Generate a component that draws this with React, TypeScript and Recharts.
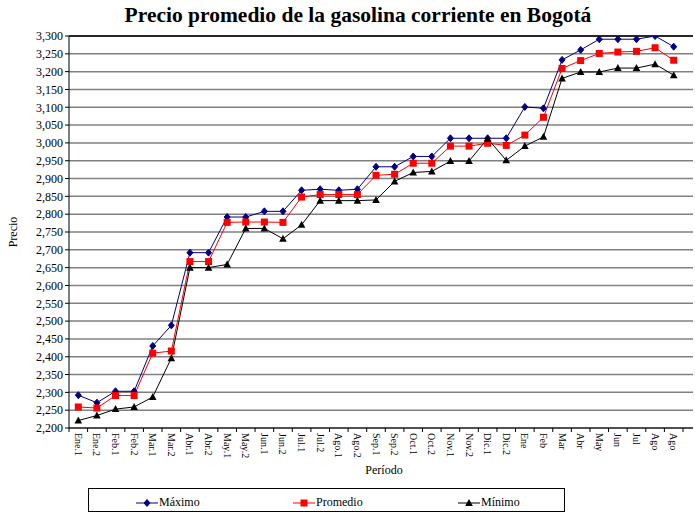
import React from 'react';
import {
  LineChart,
  Line,
  XAxis,
  YAxis,
  CartesianGrid,
  ReferenceLine,
} from 'recharts';

const periodos = [
  'Ene.1', 'Ene.2', 'Feb.1', 'Feb.2', 'Mar.1', 'Mar.2', 'Abr.1', 'Abr.2',
  'May.1', 'May.2', 'Jun.1', 'Jun.2', 'Jul.1', 'Jul.2', 'Ago.1', 'Ago.2',
  'Sep.1', 'Sep.2', 'Oct.1', 'Oct.2', 'Nov.1', 'Nov.2', 'Dic.1', 'Dic.2',
  'Ene', 'Feb', 'Mar', 'Abr', 'May', 'Jun', 'Jul', 'Ago', 'Ago',
];

const maximo = [
  2292, 2271, 2303, 2303, 2430, 2488, 2692, 2692, 2792, 2792, 2808, 2808,
  2867, 2870, 2867, 2870, 2933, 2933, 2962, 2962, 3013, 3013, 3013, 3013,
  3101, 3097, 3233, 3261, 3291, 3291, 3291, 3300, 3270,
];

const promedio = [
  2259, 2256, 2291, 2291, 2410, 2416, 2667, 2667, 2777, 2778, 2778, 2777,
  2848, 2855, 2855, 2855, 2909, 2912, 2943, 2943, 2991, 2991, 2999, 2993,
  3022, 3072, 3209, 3231, 3251, 3255, 3257, 3267, 3232,
];

const minimo = [
  2221, 2235, 2253, 2259, 2287, 2396, 2650, 2650, 2659, 2760, 2760, 2731,
  2770, 2838, 2838, 2838, 2840, 2892, 2917, 2920, 2949, 2949, 3012, 2951,
  2991, 3017, 3181, 3199, 3199, 3210, 3210, 3221, 3190,
];

const yTicks = [
  2200, 2250, 2300, 2350, 2400, 2450, 2500, 2550, 2600, 2650, 2700, 2750,
  2800, 2850, 2900, 2950, 3000, 3050, 3100, 3150, 3200, 3250, 3300,
];

const data = periodos.map((periodo, i) => ({
  periodo,
  maximo: maximo[i],
  promedio: promedio[i],
  minimo: minimo[i],
}));

const FONT = '"Liberation Serif", "Times New Roman", serif';
const BAND = 614 / 33;

const Diamond = ({ cx, cy, color }: any) => (
  <path d={`M${cx},${cy - 3.5} L${cx + 3},${cy} L${cx},${cy + 3.5} L${cx - 3},${cy} Z`} fill={color} stroke={color} />
);
const Square = ({ cx, cy, color }: any) => (
  <rect x={cx - 3.5} y={cy - 3.5} width={7} height={7} fill={color} />
);
const Triangle = ({ cx, cy, color }: any) => (
  <path d={`M${cx},${cy - 4} L${cx + 3.8},${cy + 3} L${cx - 3.8},${cy + 3} Z`} fill={color} />
);

const series = [
  { key: 'maximo', name: 'Máximo', color: '#000080', Marker: Diamond },
  { key: 'promedio', name: 'Promedio', color: '#ff0000', Marker: Square },
  { key: 'minimo', name: 'Mínimo', color: '#000000', Marker: Triangle },
];

const XTick = ({ x, y, payload, index }: any) => (
  <g>
    {index === 0 && <line x1={x - BAND / 2} y1={y} x2={x - BAND / 2} y2={y + 4} stroke="#000" />}
    <line x1={x + BAND / 2} y1={y} x2={x + BAND / 2} y2={y + 4} stroke="#000" />
    <g transform={`translate(${x},${y}) rotate(90)`}>
      <text x={5} y={0} dy="0.35em" textAnchor="start" fontSize={10} fontFamily={FONT} fill="#000">
        {payload.value}
      </text>
    </g>
  </g>
);

export default function App() {
  return (
    <div style={{ position: 'absolute', left: 0, top: 0, width: 695, height: 513, background: '#fff', fontFamily: FONT }}>
      <div style={{ position: 'absolute', left: 0, top: 3, width: 716, textAlign: 'center', fontSize: 21.5, fontWeight: 'bold' }}>
        Precio promedio de la gasolina corriente en Bogotá
      </div>
      <LineChart
        width={695}
        height={513}
        data={data}
        margin={{ top: 36, right: 2, left: 0, bottom: 0 }}
      >
        <CartesianGrid vertical={false} stroke="#808080" strokeWidth={1.5} />
        <ReferenceLine y={3300} stroke="#000" strokeWidth={1.5} />
        <XAxis
          dataKey="periodo"
          interval={0}
          height={85}
          padding={{ left: BAND / 2, right: BAND / 2 + 10 }}
          axisLine={{ stroke: '#000' }}
          tickLine={false}
          tickSize={0}
          tickMargin={0}
          tick={<XTick />}
        />
        <YAxis
          width={69}
          domain={[2200, 3300]}
          ticks={yTicks}
          interval={0}
          allowDataOverflow
          axisLine={{ stroke: '#000' }}
          tickLine={{ stroke: '#000' }}
          tickSize={4}
          tickMargin={2}
          tick={{ fill: '#000', fontSize: 12, fontFamily: FONT }}
          tickFormatter={(v: number) => v.toLocaleString('en-US')}
        />
        {series.map(({ key, name, color, Marker }) => (
          <Line
            key={key}
            type="linear"
            dataKey={key}
            name={name}
            stroke={color}
            strokeWidth={1}
            isAnimationActive={false}
            dot={(p: any) => <Marker key={`${key}-${p.index}`} cx={p.cx} cy={p.cy} color={color} />}
            activeDot={false}
          />
        ))}
      </LineChart>
      <div style={{ position: 'absolute', left: 13, top: 232, transform: 'translate(-50%, -50%) rotate(-90deg)', fontSize: 12 }}>
        Precio
      </div>
      <div style={{ position: 'absolute', left: 384, top: 463, transform: 'translateX(-50%)', fontSize: 12 }}>
        Período
      </div>
      <div
        style={{
          position: 'absolute',
          left: 88,
          top: 488,
          width: 477,
          height: 24,
          border: '1px solid #000',
          boxSizing: 'border-box',
          fontSize: 12,
        }}
      >
        {series.map(({ key, name, color, Marker }, i) => (
          <div
            key={key}
            style={{ position: 'absolute', left: [47, 204, 369][i], top: 6, display: 'flex', alignItems: 'center' }}
          >
            <svg width={22} height={12}>
              <line x1={0} y1={6} x2={22} y2={6} stroke={color} strokeWidth={1} />
              <Marker cx={11} cy={6} color={color} />
            </svg>
            <span style={{ marginLeft: 1 }}>{name}</span>
          </div>
        ))}
      </div>
    </div>
  );
}
